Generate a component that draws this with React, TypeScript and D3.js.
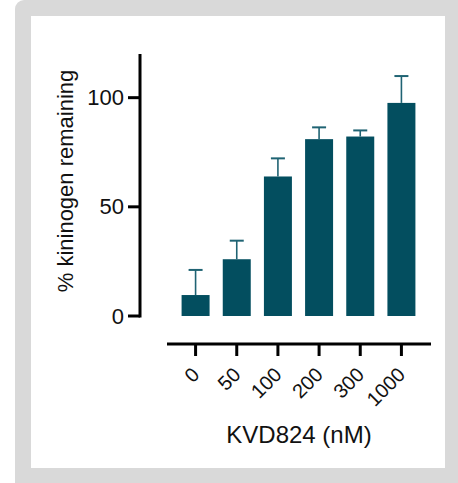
import React from "react";
import * as d3 from "d3";

// KVD824 concentrations (nM)
const doses = ["0", "50", "100", "200", "300", "1000"];
// mean % kininogen remaining
const means = [9.6, 26.0, 63.9, 81.0, 82.2, 97.6];
// upper error (SD)
const errors = [11.5, 8.5, 8.3, 5.4, 2.8, 12.3];
const yTicks = [0, 50, 100];

const W = 458;
const H = 483;
const BAR = "#034e5f";
const ERR = "#1f6373";
const FONT = "'Liberation Sans', Arial, Helvetica, sans-serif";

export default function App() {
  const y = d3.scaleLinear().domain([0, 120]).range([316, 54]);
  const x = d3
    .scaleBand<string>()
    .domain(doses)
    .range([175, 422])
    .paddingInner(0.32)
    .paddingOuter(0.16);

  const axisY = 140;
  const axisX = 344;
  const bw = x.bandwidth();
  const capW = 14;

  return (
    <svg
      width={W}
      height={H}
      style={{ position: "fixed", top: 0, left: 0, display: "block" }}
      fontFamily={FONT}
    >
      {/* panel frame */}
      <rect x={15} y={0} width={460} height={500} rx={9} fill="#d9d9d9" />
      <rect x={31} y={16} width={414} height={452} fill="#ffffff" />

      {/* bars */}
      {doses.map((d, i) => (
        <rect
          key={"b" + d}
          x={x(d)!}
          y={y(means[i])}
          width={bw}
          height={y(0) - y(means[i])}
          fill={BAR}
        />
      ))}

      {/* error bars (upper only) */}
      {doses.map((d, i) => {
        const cx = x(d)! + bw / 2;
        const top = y(means[i] + errors[i]);
        return (
          <g key={"e" + d} stroke={ERR}>
            <line x1={cx} x2={cx} y1={y(means[i])} y2={top} strokeWidth={1.6} />
            <line x1={cx - capW / 2} x2={cx + capW / 2} y1={top} y2={top} strokeWidth={2} />
          </g>
        );
      })}

      {/* y axis */}
      <line x1={axisY} x2={axisY} y1={y(120)} y2={y(0) + 1.5} stroke="#000" strokeWidth={3} />
      {yTicks.map((t) => (
        <g key={"yt" + t}>
          <line x1={axisY - 12} x2={axisY} y1={y(t)} y2={y(t)} stroke="#000" strokeWidth={3} />
          <text
            x={axisY - 16}
            y={y(t)}
            textAnchor="end"
            dominantBaseline="central"
            fontSize={22}
            fill="#111"
          >
            {t}
          </text>
        </g>
      ))}
      <text
        transform={`translate(73,181) rotate(-90)`}
        textAnchor="middle"
        fontSize={22}
        fill="#111"
      >
        % kininogen remaining
      </text>

      {/* x axis */}
      <line x1={167} x2={431} y1={axisX} y2={axisX} stroke="#000" strokeWidth={3} />
      {doses.map((d) => {
        const cx = x(d)! + bw / 2;
        return (
          <g key={"xt" + d}>
            <line x1={cx} x2={cx} y1={axisX} y2={axisX + 12} stroke="#000" strokeWidth={3} />
            <text
              transform={`translate(${cx + 5},376) rotate(-45)`}
              textAnchor="end"
              fontSize={20}
              fill="#111"
            >
              {d}
            </text>
          </g>
        );
      })}
      <text x={299} y={443} textAnchor="middle" fontSize={24} fill="#111">
        KVD824 (nM)
      </text>
    </svg>
  );
}
